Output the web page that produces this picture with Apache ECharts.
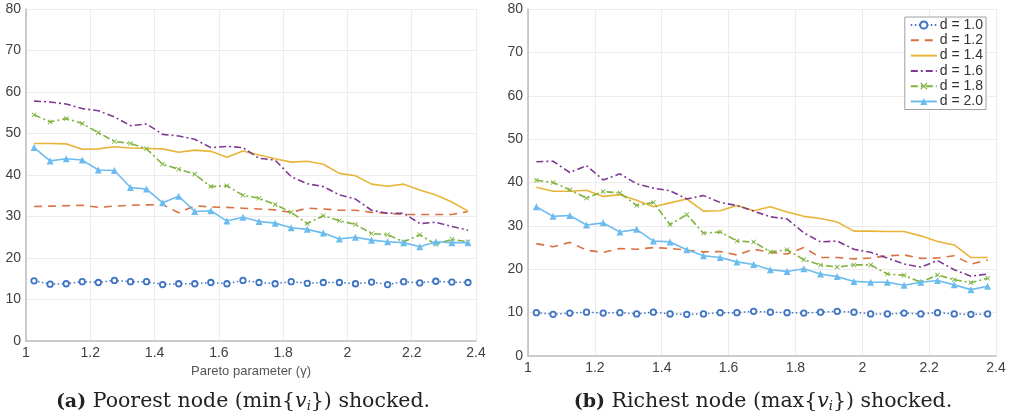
<!DOCTYPE html>
<html><head><meta charset="utf-8">
<script src="https://cdn.jsdelivr.net/npm/echarts@6/dist/echarts.min.js"></script>
<style>html,body{margin:0;padding:0;background:#fff}#c{width:1013px;height:420px}</style>
</head><body><div id="c"></div>
<script>
const gammas = [1.025,1.075,1.125,1.175,1.225,1.275,1.325,1.375,1.425,1.475,1.525,1.575,1.625,1.675,1.725,1.775,1.825,1.875,1.925,1.975,2.025,2.075,2.125,2.175,2.225,2.275,2.325,2.375];
const seriesNames = ['d = 1.0','d = 1.2','d = 1.4','d = 1.6','d = 1.8','d = 2.0'];
const xTicks = [1,1.2,1.4,1.6,1.8,2,2.2,2.4];
const yTicks = [0,10,20,30,40,50,60,70,80];

// (a) Poorest node shocked
const poorD10 = [14.5,13.7,13.8,14.3,14.1,14.6,14.3,14.3,13.6,13.8,13.8,14.1,13.8,14.6,14.1,13.8,14.3,13.9,14.1,14.1,13.8,14.2,13.6,14.3,14.0,14.4,14.2,14.1];
const poorD12 = [32.4,32.5,32.6,32.7,32.2,32.5,32.7,32.8,32.9,30.9,32.6,32.3,32.2,32.0,31.8,31.6,31.0,32.0,31.8,31.5,31.5,31.0,30.8,30.5,30.5,30.5,30.5,31.2];
const poorD14 = [47.6,47.6,47.5,46.2,46.3,46.8,46.5,46.4,46.3,45.5,46.0,45.7,44.3,45.8,44.8,43.9,43.1,43.3,42.6,40.4,39.8,37.8,37.3,37.8,36.4,35.2,33.5,31.3];
const poorD16 = [57.8,57.6,57.1,56.0,55.5,54.0,51.9,52.3,49.8,49.4,48.6,46.6,46.9,46.6,44.0,43.6,39.6,37.9,37.2,35.2,34.2,31.5,30.8,30.8,28.3,28.6,27.6,26.7];
const poorD18 = [54.5,52.8,53.6,52.4,50.2,48.1,47.6,46.3,42.6,41.4,40.2,37.2,37.4,35.1,34.4,32.9,31.0,28.3,30.2,29.0,28.1,25.9,25.6,23.9,25.6,23.3,24.5,23.9];
const poorD20 = [46.6,43.4,43.9,43.6,41.2,41.1,37.0,36.6,33.3,34.9,31.2,31.4,28.9,29.8,28.8,28.4,27.3,26.9,26.0,24.6,25.0,24.3,23.9,23.7,22.7,23.9,23.7,23.7];

// (b) Richest node shocked
const richD10 = [10.0,9.6,9.9,10.1,9.9,10.0,9.7,10.1,9.7,9.6,9.7,10.0,10.0,10.3,10.1,10.0,9.9,10.1,10.3,10.1,9.7,9.7,9.9,9.7,10.0,9.7,9.6,9.7];
const richD12 = [25.9,25.2,26.2,24.4,23.9,24.8,24.6,25.0,24.8,24.4,24.0,24.1,23.3,24.6,23.9,23.5,25.0,22.7,22.7,22.4,22.6,23.1,23.3,22.5,22.6,23.1,21.2,22.1];
const richD14 = [38.9,38.0,38.0,38.2,36.8,37.2,35.9,34.4,35.3,36.2,33.4,33.5,34.7,33.5,34.4,33.2,32.2,31.7,30.9,28.8,28.8,28.7,28.7,27.7,26.4,25.6,22.7,22.7];
const richD16 = [44.8,44.9,42.3,43.9,40.6,42.0,39.7,38.7,38.1,36.2,37.0,35.4,34.7,33.4,32.1,31.6,28.4,26.3,26.5,24.6,23.9,22.6,21.2,20.5,22.0,19.9,18.4,18.9];
const richD18 = [40.5,40.0,38.3,36.4,37.9,37.6,34.7,35.4,30.3,32.6,28.3,28.6,26.5,26.3,24.0,24.5,22.2,21.0,20.5,21.0,21.0,18.9,18.6,17.0,18.7,17.6,16.9,17.9];
const richD20 = [34.4,32.2,32.4,30.2,30.7,28.6,29.2,26.5,26.3,24.5,23.1,22.7,21.7,21.1,19.9,19.5,20.1,18.9,18.3,17.2,17.0,17.0,16.3,17.0,17.4,16.4,15.3,16.1];

const poorData = [poorD10,poorD12,poorD14,poorD16,poorD18,poorD20];
const richData = [richD10,richD12,richD14,richD16,richD18,richD20];

const colors = ['#3f74c4','#d9703f','#e8b53a','#7e3a93','#7fb33c','#6cbcf0'];
const xMark = 'path://M0,1.2L1.2,0L5,3.8L8.8,0L10,1.2L6.2,5L10,8.8L8.8,10L5,6.2L1.2,10L0,8.8L3.8,5Z';
const styles = [
  {line:{type:[1.5,2.5],width:1.5}, symbol:'circle', size:5.5, item:{color:'#ffffff',borderColor:colors[0],borderWidth:1.8}},
  {line:{type:[8,6],width:1.6}, symbol:'none'},
  {line:{type:'solid',width:1.6}, symbol:'none'},
  {line:{type:[7,3,2,3],width:1.6}, symbol:'none'},
  {line:{type:[7,3,2,3],width:1.6}, symbol:xMark, size:5, item:{color:colors[4]}},
  {line:{type:'solid',width:1.6}, symbol:'triangle', size:7, item:{color:colors[5]}}
];

function mkSeries(dataSets, idx){
  return dataSets.map((arr,i)=>{
    const st = styles[i];
    return {
      name: seriesNames[i], type:'line', xAxisIndex:idx, yAxisIndex:idx,
      data: gammas.map((g,k)=>[g,arr[k]]),
      symbol: st.symbol, symbolSize: st.size||0, showSymbol: st.symbol!=='none',
      lineStyle: Object.assign({color:colors[i]}, st.line),
      itemStyle: st.item ? st.item : {color:colors[i]},
      color: colors[i],
      animation:false, z: 2+i
    };
  });
}

const sansFont = 'Liberation Sans, Arial, sans-serif';
const axisLabelStyle = {color:'#404040', fontSize:14, fontFamily:sansFont, margin:5};
function xAxis(gi, name){
  return {type:'value', gridIndex:gi, min:xTicks[0], max:xTicks[xTicks.length-1], interval:0.2,
    name:name, nameLocation:'middle', nameGap:21,
    nameTextStyle:{color:'#555', fontSize:13, fontFamily:sansFont},
    axisLine:{show:true, onZero:false, lineStyle:{color:'#bdbdbd', width:1.5}},
    axisTick:{show:false},
    splitLine:{show:true, lineStyle:{color:'#ececec', width:1}},
    axisLabel: Object.assign({formatter: v=>String(Math.round(v*10)/10)}, axisLabelStyle)
  };
}
function yAxis(gi){
  return {type:'value', gridIndex:gi, min:yTicks[0], max:yTicks[yTicks.length-1], interval:10,
    axisLine:{show:true, lineStyle:{color:'#bdbdbd', width:1.5}},
    axisTick:{show:false},
    splitLine:{show:true, lineStyle:{color:'#ececec', width:1}},
    axisLabel: axisLabelStyle
  };
}

const capFont = 'DejaVu Serif, serif';
const capSize = 20.5;
const capRich = {
  b:{fontWeight:'bold', fontFamily:capFont, fontSize:19, color:'#222'},
  v:{fontStyle:'italic', fontFamily:capFont, fontSize:capSize, color:'#222'},
  s:{fontStyle:'italic', fontFamily:capFont, fontSize:13, color:'#222', padding:[10,0,0,0]}
};
function caption(x, label, text1, fn){
  return {type:'text', x:x, y:402, z:10,
    style:{text:'{b|'+label+'} '+text1+' ('+fn+'{{v|v}{s|i}}) shocked.',
      rich:capRich, align:'center', verticalAlign:'middle', fill:'#222',
      fontFamily:capFont, fontSize:capSize}};
}

const legendData = seriesNames.map((n,i)=> styles[i].symbol==='none' ? {name:n, itemStyle:{opacity:0}} : {name:n});

const chart = echarts.init(document.getElementById('c'), null, {renderer:'canvas'});
chart.setOption({
  backgroundColor:'#ffffff',
  animation:false,
  grid:[
    {left:26, top:9, width:450, height:332, containLabel:false},
    {left:528, top:9, width:468, height:347, containLabel:false}
  ],
  xAxis:[xAxis(0,'Pareto parameter (γ)'), xAxis(1,'')],
  yAxis:[yAxis(0), yAxis(1)],
  legend:{
    data: legendData, orient:'vertical', right:27, top:17,
    itemWidth:26, itemHeight:9, itemGap:1.3,
    backgroundColor:'#ffffff', borderColor:'#a0a0a0', borderWidth:1, borderRadius:0,
    padding:[1,3,1,5],
    textStyle:{color:'#333', fontSize:14, lineHeight:14, fontFamily:sansFont, padding:[0,0,0,-2]}
  },
  graphic:[
    caption(243, '(a)', 'Poorest node', 'min'),
    caption(763, '(b)', 'Richest node', 'max')
  ],
  series: mkSeries(poorData,0).concat(mkSeries(richData,1))
});
</script></body></html>
